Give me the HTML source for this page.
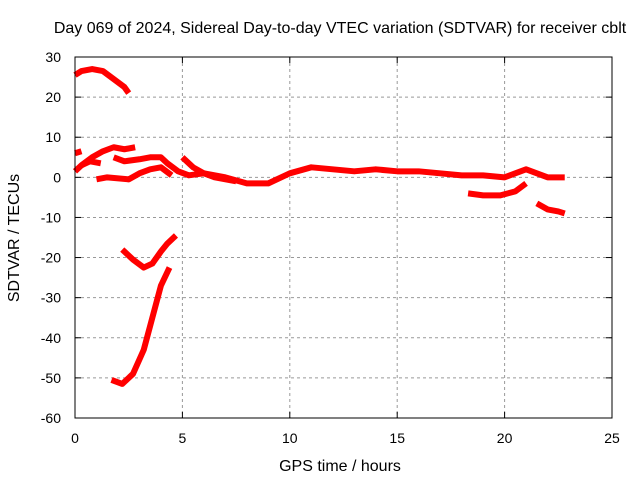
<!DOCTYPE html>
<html><head><meta charset="utf-8"><style>
body{margin:0;background:#fff}
svg text{font-family:"Liberation Sans",sans-serif;font-size:14px;fill:#000}
svg text.big{font-size:16px}
</style></head><body>
<svg id="c" width="640" height="480">
<rect width="640" height="480" fill="#fff"/>
<text class="big" x="340" y="33" text-anchor="middle">Day 069 of 2024, Sidereal Day-to-day VTEC variation (SDTVAR) for receiver cblt</text>
<text class="big" x="340" y="471" text-anchor="middle">GPS time / hours</text>
<text class="big" transform="translate(19,238) rotate(-90)" text-anchor="middle">SDTVAR / TECUs</text>
<g id="grid"></g><g id="series"></g>
<rect x="75" y="57" width="537" height="361" fill="none" stroke="#000" stroke-width="1"/>
</svg>
<script>
const xTicks=[0,5,10,15,20,25];
const yTicks=[30,20,10,0,-10,-20,-30,-40,-50,-60];
const sA=[[0,25.5],[0.3,26.5],[0.8,27],[1.3,26.5],[1.8,24.5],[2.3,22.5],[2.5,21]];
const sB=[[0,1.5],[0.3,3],[0.8,5],[1.3,6.5],[1.8,7.5],[2.3,7],[2.8,7.5]];
const sB2=[[0,6],[0.3,6.5]];
const sB3=[[0.3,3],[0.7,4],[1.2,3.5]];
const sC=[[1.8,5],[2.3,4],[3,4.5],[3.5,5],[4,5],[4.3,3.5],[4.8,1.5],[5.3,0.5],[6,1],[7,0],[8,-1.5],[9,-1.5],[10,1],[11,2.5],[12,2],[13,1.5],[14,2],[15,1.5],[16,1.5],[17,1],[18,0.5],[19,0.5],[20,0],[20.5,1],[21,2],[21.5,1],[22,0],[22.8,0]];
const sD=[[1,-0.5],[1.5,0],[2.5,-0.5],[3,1],[3.5,2],[4,2.5],[4.5,0.5]];
const sE=[[5,5],[5.5,2.5],[6,1],[6.5,0],[7.5,-1]];
const sF=[[18.3,-4],[19,-4.5],[19.8,-4.5],[20.5,-3.5],[21,-1.5]];
const sG=[[21.5,-6.5],[22,-8],[22.5,-8.5],[22.8,-9]];
const sH=[[2.2,-18],[2.7,-20.5],[3.2,-22.5],[3.6,-21.5],[4,-18.5],[4.3,-16.5],[4.7,-14.5]];
const sI=[[1.7,-50.5],[2.2,-51.5],[2.7,-49],[3.2,-43],[3.6,-35],[4,-27],[4.4,-22.5]];
const allSeries=[sA,sB,sB2,sB3,sC,sD,sE,sF,sG,sH,sI];
const X=v=>75+v*537/25, Y=v=>57+(30-v)*361/90;
const NS="http://www.w3.org/2000/svg";
const g=document.getElementById('grid'), s=document.getElementById('series');
function mk(t,a,p){const e=document.createElementNS(NS,t);for(const k in a)e.setAttribute(k,a[k]);p.appendChild(e);return e;}
xTicks.forEach(v=>{
 if(v>0&&v<25){const l=mk('line',{x1:X(v),x2:X(v),y1:57,y2:418,stroke:'#999','stroke-dasharray':'3,3'},g);
 
 }
 mk('line',{x1:X(v),x2:X(v),y1:418,y2:412,stroke:'#000'},g);
 mk('line',{x1:X(v),x2:X(v),y1:57,y2:63,stroke:'#000'},g);
 const t=mk('text',{x:X(v),y:443,'text-anchor':'middle'},g);t.textContent=v;
 
 
});
yTicks.forEach(v=>{
 if(v<30&&v>-60){const l=mk('line',{x1:75,x2:612,y1:Y(v),y2:Y(v),stroke:'#999','stroke-dasharray':'3,3'},g);
 
 }
 mk('line',{x1:75,x2:81,y1:Y(v),y2:Y(v),stroke:'#000'},g);
 mk('line',{x1:612,x2:606,y1:Y(v),y2:Y(v),stroke:'#000'},g);
 const t=mk('text',{x:61,y:Y(v)+5,'text-anchor':'end'},g);t.textContent=v;
 
 
});
allSeries.forEach(d=>{
 const p=mk('polyline',{points:d.map(q=>X(q[0])+','+Y(q[1])).join(' '),fill:'none',stroke:'#f00','stroke-width':6,'stroke-linejoin':'round'},s);
 
 
});
</script>
</body></html>
